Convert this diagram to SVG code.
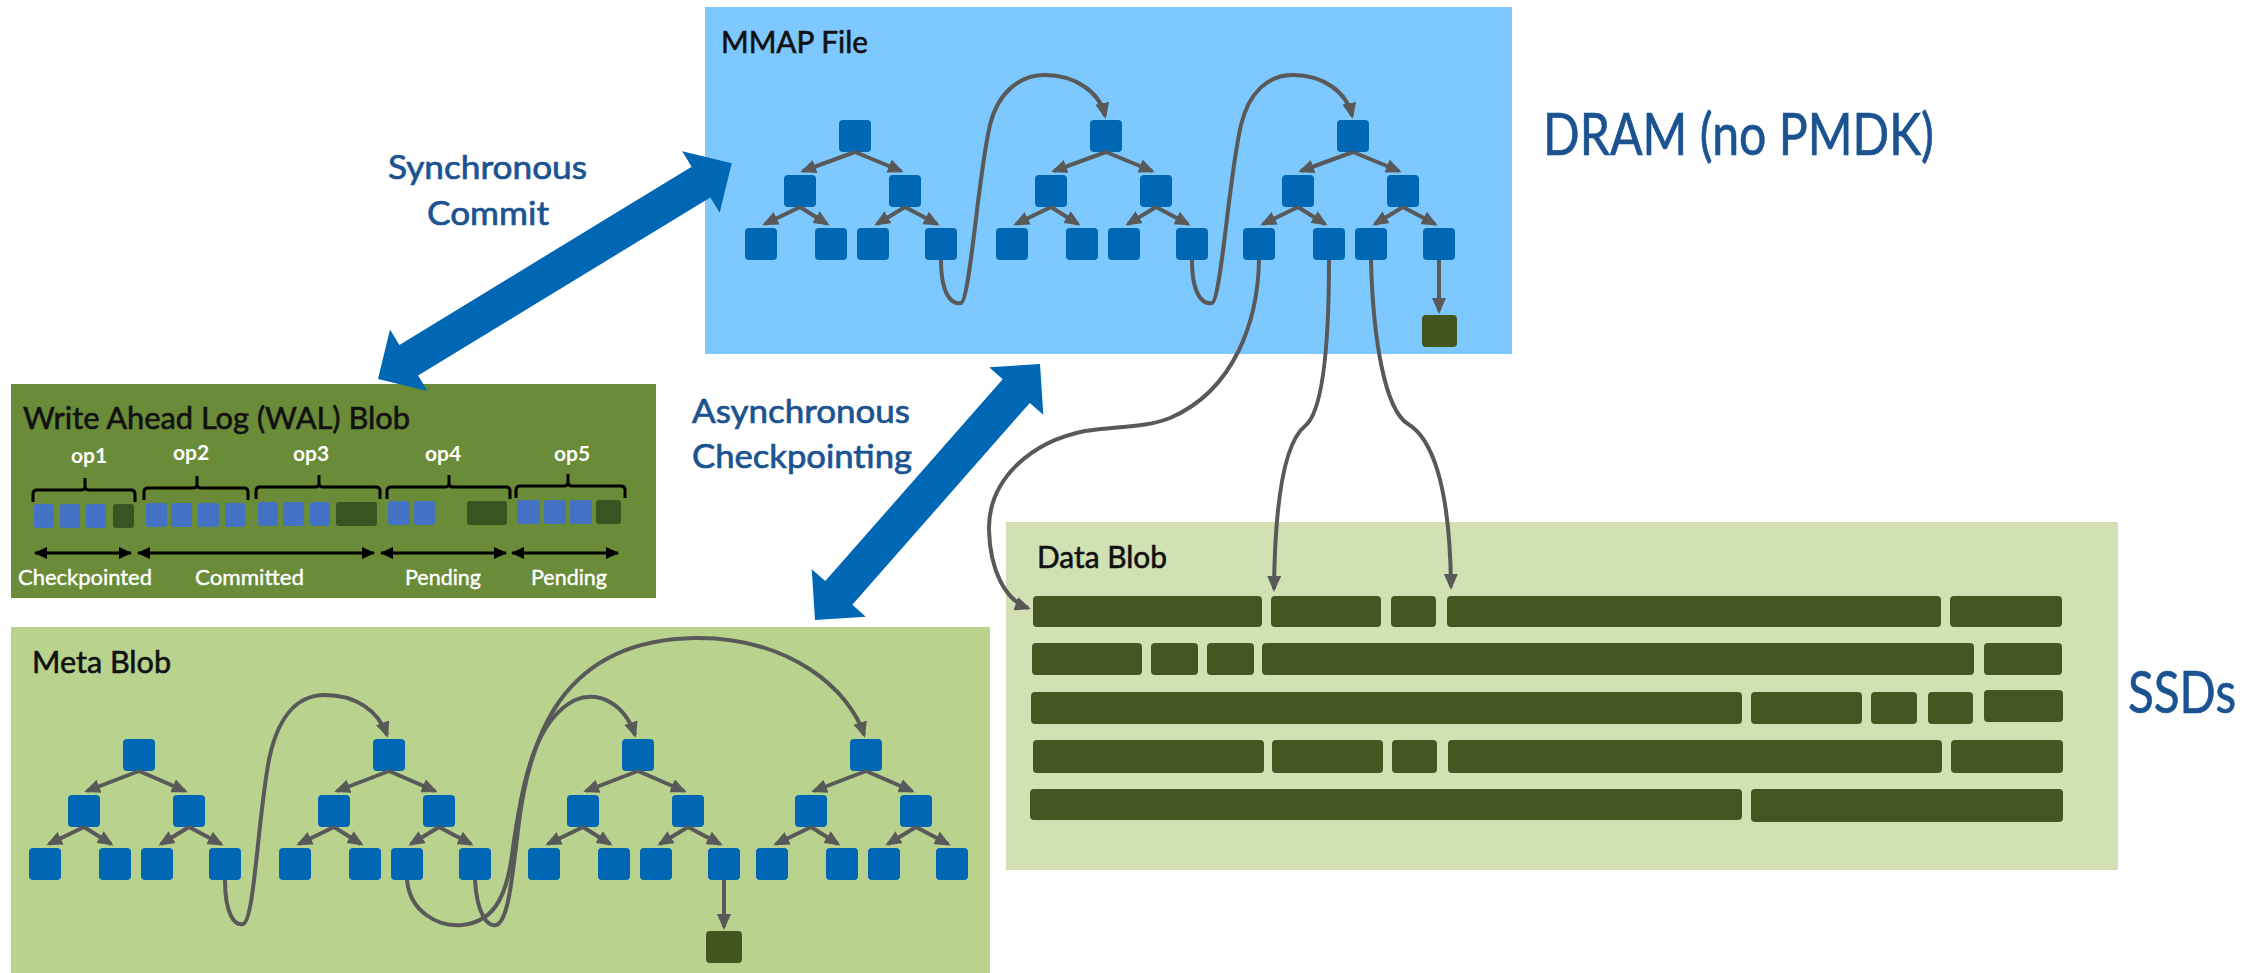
<svg xmlns="http://www.w3.org/2000/svg" width="2265" height="973" viewBox="0 0 2265 973">
<style>
.txt{font-family:Lato,"Open Sans","Liberation Sans",sans-serif}
.title{font-size:30px;fill:#111;stroke:#111;stroke-width:0.6}
.blue{fill:#1B5391;stroke:#1B5391;stroke-width:0.7}
.big{font-size:58px}
.mid{font-size:33px}
.wl{font-size:22px;fill:#fff;stroke:#fff;stroke-width:0.4}
.op{font-size:21px;fill:#fff;font-weight:bold}
.n{fill:#0067B4}
.g{fill:#44561F}
.bar{fill:#465623}
.wb{fill:#4472C4}
.wg{fill:#375421}
.e{stroke:#595959;stroke-width:4;fill:none;marker-end:url(#ah)}
.br{stroke:#000;stroke-width:3;fill:none;stroke-linejoin:round}
.da{stroke:#000;stroke-width:3;fill:none;marker-start:url(#bh);marker-end:url(#bh)}
.big-arrow{fill:#0067B4}
</style>
<defs>
<marker id="ah" markerUnits="userSpaceOnUse" markerWidth="16" markerHeight="14" viewBox="0 0 16 14" refX="13" refY="7" orient="auto"><path d="M0,0 L16,7 L0,14 z" fill="#595959"/></marker>
<marker id="bh" markerUnits="userSpaceOnUse" markerWidth="13" markerHeight="12" viewBox="0 0 13 12" refX="12" refY="6" orient="auto-start-reverse"><path d="M0,0 L13,6 L0,12 z" fill="#000"/></marker>
</defs>
<rect width="2265" height="973" fill="#fff"/>

<!-- containers -->
<g id="mmap">
<rect x="705" y="7" width="807" height="347" fill="#7DC8FF"/>
<text class="txt title" x="721" y="53" textLength="147" lengthAdjust="spacingAndGlyphs">MMAP File</text>
</g>
<g id="wal">
<rect x="11" y="384" width="645" height="214" fill="#6A8B37"/>
<text class="txt title" x="23" y="429" font-size="31" textLength="387" lengthAdjust="spacingAndGlyphs">Write Ahead Log (WAL) Blob</text>
<g id="wal-ops">
<text class="txt op" x="89" y="463" text-anchor="middle">op1</text>
<text class="txt op" x="191" y="460" text-anchor="middle">op2</text>
<text class="txt op" x="311" y="461" text-anchor="middle">op3</text>
<text class="txt op" x="443" y="461" text-anchor="middle">op4</text>
<text class="txt op" x="572" y="461" text-anchor="middle">op5</text>
</g>
<g id="wal-braces">
<path class="br" d="M33,502 L33,494 Q33,490 37,490 L81,490 Q85,490 85,486 L85,478 M85,486 Q85,490 89,490 L131,490 Q135,490 135,494 L135,502"/>
<path class="br" d="M144,500 L144,492 Q144,488 148,488 L193,488 Q197,488 197,484 L197,476 M197,484 Q197,488 201,488 L244,488 Q248,488 248,492 L248,500"/>
<path class="br" d="M256,499 L256,491 Q256,487 260,487 L315,487 Q319,487 319,483 L319,475 M319,483 Q319,487 323,487 L376,487 Q380,487 380,491 L380,499"/>
<path class="br" d="M387,499 L387,491 Q387,487 391,487 L445,487 Q449,487 449,483 L449,475 M449,483 Q449,487 453,487 L506,487 Q510,487 510,491 L510,499"/>
<path class="br" d="M516,498 L516,490 Q516,486 520,486 L564,486 Q568,486 568,482 L568,474 M568,482 Q568,486 572,486 L621,486 Q625,486 625,490 L625,498"/>
</g>
<g id="wal-blocks">
<rect class="wb" x="34" y="504" width="20" height="24" rx="3"/>
<rect class="wb" x="60" y="504" width="20" height="24" rx="3"/>
<rect class="wb" x="86" y="504" width="20" height="24" rx="3"/>
<rect class="wg" x="113" y="504" width="21" height="24" rx="3"/>
<rect class="wb" x="146" y="503" width="21" height="24" rx="3"/>
<rect class="wb" x="171" y="503" width="21" height="24" rx="3"/>
<rect class="wb" x="198" y="503" width="21" height="24" rx="3"/>
<rect class="wb" x="225" y="503" width="20" height="24" rx="3"/>
<rect class="wb" x="258" y="502" width="20" height="24" rx="3"/>
<rect class="wb" x="283" y="502" width="21" height="24" rx="3"/>
<rect class="wb" x="310" y="502" width="20" height="24" rx="3"/>
<rect class="wg" x="336" y="502" width="41" height="24" rx="3"/>
<rect class="wb" x="388" y="501" width="22" height="24" rx="3"/>
<rect class="wb" x="414" y="501" width="21" height="24" rx="3"/>
<rect class="wg" x="467" y="501" width="40" height="24" rx="3"/>
<rect class="wb" x="517" y="500" width="23" height="24" rx="3"/>
<rect class="wb" x="544" y="500" width="22" height="24" rx="3"/>
<rect class="wb" x="570" y="500" width="22" height="24" rx="3"/>
<rect class="wg" x="596" y="500" width="25" height="24" rx="3"/>
</g>
<g id="wal-spans">
<line class="da" x1="35" y1="553" x2="131" y2="553"/>
<line class="da" x1="138" y1="553" x2="374" y2="553"/>
<line class="da" x1="381" y1="553" x2="506" y2="553"/>
<line class="da" x1="512" y1="553" x2="618" y2="553"/>
<text class="txt wl" x="18" y="585" textLength="134" lengthAdjust="spacingAndGlyphs">Checkpointed</text>
<text class="txt wl" x="195" y="585" textLength="109" lengthAdjust="spacingAndGlyphs">Committed</text>
<text class="txt wl" x="405" y="585" textLength="76" lengthAdjust="spacingAndGlyphs">Pending</text>
<text class="txt wl" x="531" y="585" textLength="76" lengthAdjust="spacingAndGlyphs">Pending</text>
</g>
</g>
<g id="meta">
<rect x="11" y="627" width="979" height="346" fill="#B9D38F"/>
<text class="txt title" x="32" y="673" textLength="139" lengthAdjust="spacingAndGlyphs">Meta Blob</text>
</g>
<g id="data">
<rect x="1006" y="522" width="1112" height="348" fill="#D1E1B4"/>
<text class="txt title" x="1037" y="568" textLength="130" lengthAdjust="spacingAndGlyphs">Data Blob</text>
<g id="data-bars">
<rect class="bar" x="1033" y="596" width="229" height="31" rx="4"/>
<rect class="bar" x="1271" y="596" width="110" height="31" rx="4"/>
<rect class="bar" x="1391" y="596" width="45" height="31" rx="4"/>
<rect class="bar" x="1447" y="596" width="494" height="31" rx="4"/>
<rect class="bar" x="1950" y="596" width="112" height="31" rx="4"/>
<rect class="bar" x="1032" y="643" width="110" height="32" rx="4"/>
<rect class="bar" x="1151" y="643" width="47" height="32" rx="4"/>
<rect class="bar" x="1207" y="643" width="47" height="32" rx="4"/>
<rect class="bar" x="1262" y="643" width="712" height="32" rx="4"/>
<rect class="bar" x="1984" y="643" width="78" height="32" rx="4"/>
<rect class="bar" x="1031" y="692" width="711" height="32" rx="4"/>
<rect class="bar" x="1751" y="692" width="111" height="32" rx="4"/>
<rect class="bar" x="1871" y="692" width="46" height="32" rx="4"/>
<rect class="bar" x="1928" y="692" width="45" height="32" rx="4"/>
<rect class="bar" x="1984" y="690" width="79" height="32" rx="4"/>
<rect class="bar" x="1033" y="740" width="231" height="33" rx="4"/>
<rect class="bar" x="1272" y="740" width="111" height="33" rx="4"/>
<rect class="bar" x="1392" y="740" width="45" height="33" rx="4"/>
<rect class="bar" x="1448" y="740" width="494" height="33" rx="4"/>
<rect class="bar" x="1951" y="740" width="112" height="33" rx="4"/>
<rect class="bar" x="1030" y="789" width="712" height="31" rx="4"/>
<rect class="bar" x="1751" y="789" width="312" height="33" rx="4"/>
</g>
</g>

<!-- labels -->
<g id="labels">
<text class="txt blue big" x="1543" y="155" textLength="391" lengthAdjust="spacingAndGlyphs">DRAM (no PMDK)</text>
<text class="txt blue big" x="2128" y="713" font-size="56" textLength="108" lengthAdjust="spacingAndGlyphs">SSDs</text>
<text class="txt blue mid" x="388" y="179" textLength="199" lengthAdjust="spacingAndGlyphs">Synchronous</text>
<text class="txt blue mid" x="427" y="225" textLength="122" lengthAdjust="spacingAndGlyphs">Commit</text>
<text class="txt blue mid" x="692" y="423" textLength="218" lengthAdjust="spacingAndGlyphs">Asynchronous</text>
<text class="txt blue mid" x="692" y="468" textLength="220" lengthAdjust="spacingAndGlyphs">Checkpointing</text>
</g>

<!-- MMAP tree nodes -->
<g id="mmap-t1">
<rect class="n" x="839" y="120" width="32" height="32" rx="4"/>
<rect class="n" x="784" y="175" width="32" height="32" rx="4"/>
<rect class="n" x="889" y="175" width="32" height="32" rx="4"/>
<rect class="n" x="745" y="228" width="32" height="32" rx="4"/>
<rect class="n" x="815" y="228" width="32" height="32" rx="4"/>
<rect class="n" x="857" y="228" width="32" height="32" rx="4"/>
<rect class="n" x="925" y="228" width="32" height="32" rx="4"/>
</g>
<g id="mmap-t2">
<rect class="n" x="1090" y="120" width="32" height="32" rx="4"/>
<rect class="n" x="1035" y="175" width="32" height="32" rx="4"/>
<rect class="n" x="1140" y="175" width="32" height="32" rx="4"/>
<rect class="n" x="996" y="228" width="32" height="32" rx="4"/>
<rect class="n" x="1066" y="228" width="32" height="32" rx="4"/>
<rect class="n" x="1108" y="228" width="32" height="32" rx="4"/>
<rect class="n" x="1176" y="228" width="32" height="32" rx="4"/>
</g>
<g id="mmap-t3">
<rect class="n" x="1337" y="120" width="32" height="32" rx="4"/>
<rect class="n" x="1282" y="175" width="32" height="32" rx="4"/>
<rect class="n" x="1387" y="175" width="32" height="32" rx="4"/>
<rect class="n" x="1243" y="228" width="32" height="32" rx="4"/>
<rect class="n" x="1313" y="228" width="32" height="32" rx="4"/>
<rect class="n" x="1355" y="228" width="32" height="32" rx="4"/>
<rect class="n" x="1423" y="228" width="32" height="32" rx="4"/>
</g>
<g id="mmap-leafdata">
<rect class="g" x="1422" y="315" width="35" height="32" rx="4"/>
</g>

<!-- Meta tree nodes -->
<g id="meta-t1">
<rect class="n" x="123" y="739" width="32" height="32" rx="4"/>
<rect class="n" x="68" y="795" width="32" height="32" rx="4"/>
<rect class="n" x="173" y="795" width="32" height="32" rx="4"/>
<rect class="n" x="29" y="848" width="32" height="32" rx="4"/>
<rect class="n" x="99" y="848" width="32" height="32" rx="4"/>
<rect class="n" x="141" y="848" width="32" height="32" rx="4"/>
<rect class="n" x="209" y="848" width="32" height="32" rx="4"/>
</g>
<g id="meta-t2">
<rect class="n" x="373" y="739" width="32" height="32" rx="4"/>
<rect class="n" x="318" y="795" width="32" height="32" rx="4"/>
<rect class="n" x="423" y="795" width="32" height="32" rx="4"/>
<rect class="n" x="279" y="848" width="32" height="32" rx="4"/>
<rect class="n" x="349" y="848" width="32" height="32" rx="4"/>
<rect class="n" x="391" y="848" width="32" height="32" rx="4"/>
<rect class="n" x="459" y="848" width="32" height="32" rx="4"/>
</g>
<g id="meta-t3">
<rect class="n" x="622" y="739" width="32" height="32" rx="4"/>
<rect class="n" x="567" y="795" width="32" height="32" rx="4"/>
<rect class="n" x="672" y="795" width="32" height="32" rx="4"/>
<rect class="n" x="528" y="848" width="32" height="32" rx="4"/>
<rect class="n" x="598" y="848" width="32" height="32" rx="4"/>
<rect class="n" x="640" y="848" width="32" height="32" rx="4"/>
<rect class="n" x="708" y="848" width="32" height="32" rx="4"/>
</g>
<g id="meta-t4">
<rect class="n" x="850" y="739" width="32" height="32" rx="4"/>
<rect class="n" x="795" y="795" width="32" height="32" rx="4"/>
<rect class="n" x="900" y="795" width="32" height="32" rx="4"/>
<rect class="n" x="756" y="848" width="32" height="32" rx="4"/>
<rect class="n" x="826" y="848" width="32" height="32" rx="4"/>
<rect class="n" x="868" y="848" width="32" height="32" rx="4"/>
<rect class="n" x="936" y="848" width="32" height="32" rx="4"/>
</g>
<g id="meta-leafdata">
<rect class="g" x="706" y="931" width="36" height="32" rx="4"/>
</g>

<!-- big arrows -->
<g id="big-arrows">
<polygon class="big-arrow" points="378,379 427.5,391 418.1,375.6 710.3,197.4 719.7,212.8 731.7,163.3 682.2,151.3 691.6,166.7 399.4,344.9 390,329.5"/>
<polygon class="big-arrow" points="815,620 865.8,616.7 852.3,604.8 1029.8,402.9 1043.3,414.8 1040,364 989.2,367.3 1002.7,379.2 825.3,581.1 811.7,569.2"/>
</g>

<!-- connectors -->
<g id="connectors">
<path class="e" d="M855,152 L803,171"/><path class="e" d="M855,152 L901,171"/>
<path class="e" d="M800,207 L765,224"/><path class="e" d="M800,207 L827,224"/>
<path class="e" d="M905,207 L877,224"/><path class="e" d="M905,207 L937,224"/>
<path class="e" d="M1106,152 L1054,171"/><path class="e" d="M1106,152 L1152,171"/>
<path class="e" d="M1051,207 L1016,224"/><path class="e" d="M1051,207 L1078,224"/>
<path class="e" d="M1156,207 L1128,224"/><path class="e" d="M1156,207 L1188,224"/>
<path class="e" d="M1353,152 L1301,171"/><path class="e" d="M1353,152 L1399,171"/>
<path class="e" d="M1298,207 L1263,224"/><path class="e" d="M1298,207 L1325,224"/>
<path class="e" d="M1403,207 L1375,224"/><path class="e" d="M1403,207 L1435,224"/>
<path class="e" d="M1439,260 L1439,311"/>
<path class="e" d="M941,260 C941,295 952,305 961,303 C970,301 978,175 990,125 C998,92 1020,75 1045,75 C1075,75 1100,92 1105,116"/>
<path class="e" d="M1192,260 C1192,295 1203,305 1212,303 C1221,301 1229,175 1241,125 C1249,92 1268,75 1293,75 C1323,75 1347,92 1352,116"/>
<path class="e" d="M1259,260 C1258,320 1235,390 1170,418 C1145,428 1115,426 1085,431 C1030,442 988,480 989,530 C990,570 1005,600 1028,608"/>
<path class="e" d="M1329,260 C1329,330 1325,410 1305,426 C1285,442 1275,500 1274,589"/>
<path class="e" d="M1371,260 C1373,340 1385,410 1408,424 C1430,437 1450,480 1451,587"/>

<path class="e" d="M139,771 L87,791"/><path class="e" d="M139,771 L185,791"/>
<path class="e" d="M84,827 L49,844"/><path class="e" d="M84,827 L111,844"/>
<path class="e" d="M189,827 L161,844"/><path class="e" d="M189,827 L221,844"/>
<path class="e" d="M389,771 L337,791"/><path class="e" d="M389,771 L435,791"/>
<path class="e" d="M334,827 L299,844"/><path class="e" d="M334,827 L361,844"/>
<path class="e" d="M439,827 L411,844"/><path class="e" d="M439,827 L471,844"/>
<path class="e" d="M638,771 L586,791"/><path class="e" d="M638,771 L684,791"/>
<path class="e" d="M583,827 L548,844"/><path class="e" d="M583,827 L610,844"/>
<path class="e" d="M688,827 L660,844"/><path class="e" d="M688,827 L720,844"/>
<path class="e" d="M866,771 L814,791"/><path class="e" d="M866,771 L912,791"/>
<path class="e" d="M811,827 L776,844"/><path class="e" d="M811,827 L838,844"/>
<path class="e" d="M916,827 L888,844"/><path class="e" d="M916,827 L948,844"/>
<path class="e" d="M724,880 L724,927"/>
<path class="e" d="M225,880 C225,915 235,926 243,924 C254,921 257,830 268,765 C276,720 295,695 325,695 C355,695 378,710 387,735"/>
<path class="e" d="M407,880 C410,912 438,927 462,925 C492,922 506,900 512,855 C522,780 535,720 575,700 C600,690 625,705 635,735"/>
<path class="e" d="M475,880 C477,915 488,927 496,925 C508,922 512,880 518,830 C528,740 560,640 695,638 C790,637 850,690 864,735"/>
</g>
</svg>
